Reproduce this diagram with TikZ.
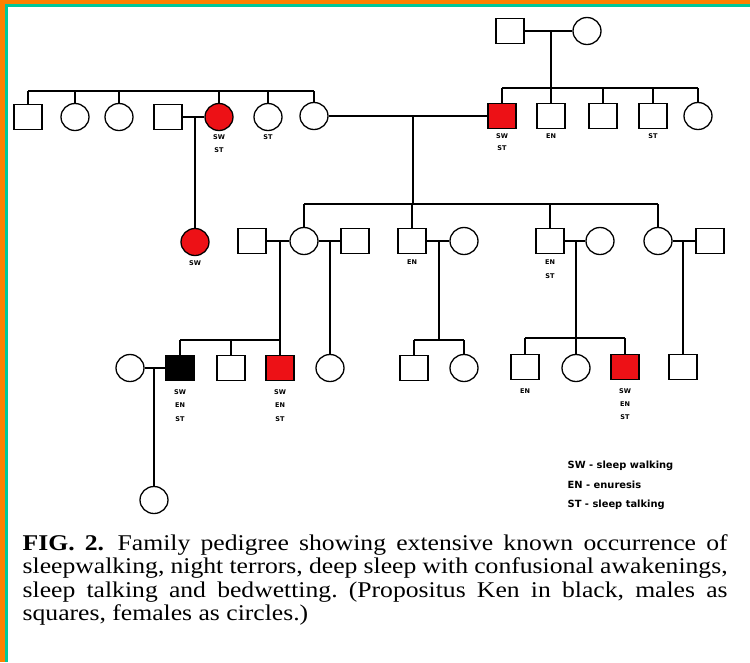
\documentclass[tikz,border=0pt]{standalone}
\usepackage{fontspec}
\setmainfont{Liberation Serif}[FakeStretch=1.14]
\newfontfamily\lblfont{DejaVu Sans}
\usetikzlibrary{shapes.geometric,calc}
\definecolor{pedred}{RGB}{237,17,22}
\definecolor{frameorange}{RGB}{255,128,0}
\definecolor{frameteal}{RGB}{0,200,155}
\begin{document}
\begin{tikzpicture}[x=1pt,y=-1pt,line width=1.3pt,
  male/.style={draw,rectangle,minimum width=28pt,minimum height=25pt,inner sep=0pt,line width=1.3pt},
  female/.style={draw,ellipse,minimum width=28pt,minimum height=27pt,inner sep=0pt,line width=1.3pt},
  aff/.style={fill=pedred},
  prop/.style={fill=black},
  lbl/.style={font=\lblfont\bfseries\fontsize{6.5}{7}\selectfont,inner sep=0pt},
  leg/.style={font=\lblfont\bfseries\fontsize{9.9}{11}\selectfont,inner sep=0pt,anchor=west}]
\useasboundingbox (0,0) rectangle (750,662);
% frame
\fill[frameorange] (0,0) rectangle (5,662);
\fill[frameorange] (0,0) rectangle (750,4);
\fill[frameteal] (5,4) rectangle (7.5,662);
\fill[frameteal] (5,4) rectangle (750,6.5);
% generation 1
\node[male] (g1m) at (510,31) {};
\node[female] (g1f) at (587,31) {};
\draw (g1m) -- (g1f);
\coordinate (g1c) at (551,31);
\coordinate (rsL) at (502,88);
\coordinate (rsR) at (698,88);
\draw (g1c) -- (g1c |- rsL);
\draw (rsL) -- (rsR);
% generation 2 right sibship
\node[male,aff] (r1) at (502,116) {};
\node[male] (r2) at (551,116) {};
\node[male] (r3) at (603,116) {};
\node[male] (r4) at (653,116) {};
\node[female] (r5) at (698,116) {};
\foreach \n in {r1,r2,r3,r4,r5} \draw (\n) -- (\n |- rsL);
% generation 2 left sibship
\coordinate (lsL) at (28,91);
\coordinate (lsR) at (314,91);
\draw (lsL) -- (lsR);
\node[male] (l1) at (28,117) {};
\node[female] (l2) at (75,117) {};
\node[female] (l3) at (119,117) {};
\node[male] (l4) at (168,117) {};
\node[female,aff] (l5) at (219,117) {};
\node[female] (l6) at (268,117) {};
\node[female] (l7) at (314,116) {};
\foreach \n in {l1,l2,l3,l5,l6,l7} \draw (\n) -- (\n |- lsL);
\draw (l4) -- (l5);
\draw (l7) -- (r1);
% generation 3
\node[female,aff] (g3a) at (195,242) {};
\coordinate (m45) at (195,117);
\draw (m45) -- (g3a);
\coordinate (m7r) at (413,116);
\coordinate (csL) at (304,204);
\coordinate (csR) at (658,204);
\draw (m7r) -- (m7r |- csL);
\draw (csL) -- (csR);
\node[male] (s1) at (252,241) {};
\node[female] (c1) at (304,241) {};
\node[male] (s2) at (355,241) {};
\node[male] (c2) at (412,241) {};
\node[female] (s3) at (464,241) {};
\node[male] (c3) at (550,241) {};
\node[female] (s4) at (600,241) {};
\node[female] (c4) at (658,241) {};
\node[male] (s5) at (710,241) {};
\foreach \n in {c1,c2,c3,c4} \draw (\n) -- (\n |- csL);
\draw (s1) -- (c1);
\draw (c1) -- (s2);
\draw (c2) -- (s3);
\draw (c3) -- (s4);
\draw (c4) -- (s5);
% generation 4
\node[female] (w) at (130,368) {};
\node[male,prop] (k) at (180,368) {};
\node[male] (d2) at (231,368) {};
\node[male,aff] (d3) at (280,368) {};
\node[female] (d4) at (330,368) {};
\node[male] (d5) at (414,368) {};
\node[female] (d6) at (464,368) {};
\node[male] (e1) at (525,367) {};
\node[female] (e2) at (576,368) {};
\node[male,aff] (e3) at (625,367) {};
\node[male] (e4) at (683,367) {};
\coordinate (m1) at (280,241);
\coordinate (ksL) at (180,340);
\coordinate (ksR) at (280,340);
\draw (m1) -- (ksR);
\draw (ksL) -- (ksR);
\foreach \n in {k,d2,d3} \draw (\n) -- (\n |- ksL);
\coordinate (m2) at (330,241);
\draw (m2) -- (d4);
\coordinate (m3) at (439,241);
\coordinate (dsL) at (414,340);
\coordinate (dsR) at (464,340);
\draw (m3) -- (m3 |- dsL);
\draw (dsL) -- (dsR);
\foreach \n in {d5,d6} \draw (\n) -- (\n |- dsL);
\coordinate (m4) at (576,241);
\coordinate (esL) at (525,338);
\coordinate (esR) at (625,338);
\draw (m4) -- (m4 |- esL);
\draw (esL) -- (esR);
\foreach \n in {e1,e2,e3} \draw (\n) -- (\n |- esL);
\coordinate (m5) at (683,241);
\draw (m5) -- (e4);
\draw (w) -- (k);
% generation 5
\node[female] (g5) at (154,500) {};
\coordinate (m6) at (154,368);
\draw (m6) -- (g5);
% trait labels
\node[lbl] (t1) at (502,136) {SW};
\node[lbl] (t2) at (502,148) {ST};
\node[lbl] (t3) at (551,136) {EN};
\node[lbl] (t4) at (653,136) {ST};
\node[lbl] (t5) at (219,137) {SW};
\node[lbl] (t6) at (219,150) {ST};
\node[lbl] (t7) at (268,137) {ST};
\node[lbl] (t8) at (195,263) {SW};
\node[lbl] (t9) at (412,262) {EN};
\node[lbl] (t10) at (550,262) {EN};
\node[lbl] (t11) at (550,276) {ST};
\node[lbl] (t12) at (180,392) {SW};
\node[lbl] (t13) at (180,405) {EN};
\node[lbl] (t14) at (180,419) {ST};
\node[lbl] (t15) at (280,392) {SW};
\node[lbl] (t16) at (280,405) {EN};
\node[lbl] (t17) at (280,419) {ST};
\node[lbl] (t18) at (525,391) {EN};
\node[lbl] (t19) at (625,391) {SW};
\node[lbl] (t20) at (625,404) {EN};
\node[lbl] (t21) at (625,417) {ST};
% legend
\node[leg] (lg1) at (567,466) {SW - sleep walking};
\node[leg] (lg2) at (567,485) {EN - enuresis};
\node[leg] (lg3) at (567,505) {ST - sleep talking};
% caption
\node[anchor=base west,inner sep=0pt] (cap) at (22,550) {\parbox[t]{705pt}{\frenchspacing\fontsize{22.5}{23.5}\selectfont
\makebox[705pt][s]{\textbf{FIG. 2.}\hspace{0.6em}Family pedigree showing extensive known occurrence of}\\
\makebox[705pt][s]{sleepwalking, night terrors, deep sleep with confusional awakenings,}\\
\makebox[705pt][s]{sleep talking and bedwetting. (Propositus Ken in black, males as}\\
squares, females as circles.)}};
\end{tikzpicture}
\end{document}
